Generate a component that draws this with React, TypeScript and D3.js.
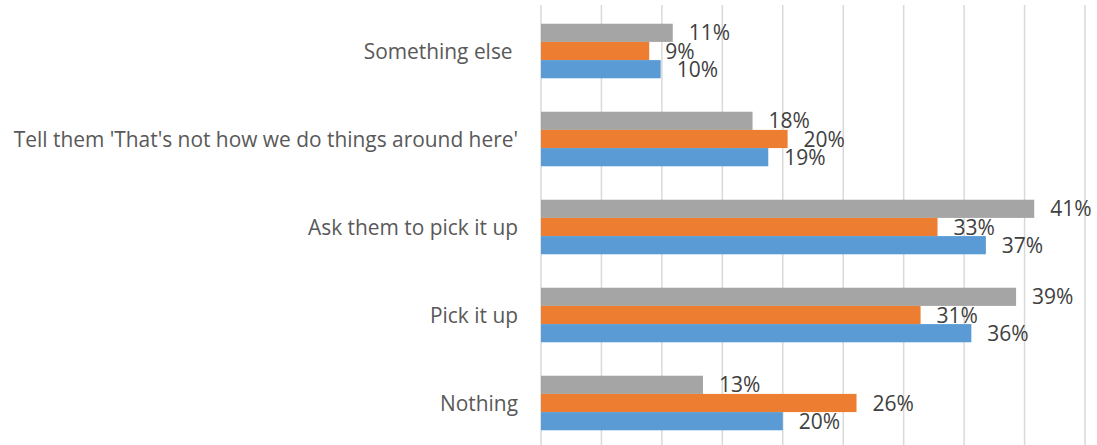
import React from 'react';
import * as d3 from 'd3';

const categories = [
  'Something else ',
  "Tell them 'That's not how we do things around here'",
  'Ask them to pick it up',
  'Pick it up',
  'Nothing',
];
const seriesNames = ['Series3', 'Series2', 'Series1'];
const seriesColors = ['#a5a5a5', '#ed7d31', '#5b9bd5'];
const grayValues = [10.9, 17.5, 40.8, 39.3, 13.4];
const orangeValues = [8.95, 20.4, 32.8, 31.4, 26.1];
const blueValues = [9.9, 18.8, 36.8, 35.6, 20.0];
const grayLabels = ['11%', '18%', '41%', '39%', '13%'];
const orangeLabels = ['9%', '20%', '33%', '31%', '26%'];
const blueLabels = ['10%', '19%', '37%', '36%', '20%'];
const xTicks = [0, 5, 10, 15, 20, 25, 30, 35, 40, 45];

const W = 1097;
const H = 445;

export default function App() {
  const x = d3.scaleLinear().domain([0, 45]).range([541, 1085]);
  const y = d3.scaleBand<string>().domain(categories).range([7, 447]).paddingInner(0.38).paddingOuter(0.19);
  const sub = d3.scaleBand<string>().domain(seriesNames).range([0, y.bandwidth()]);
  const allValues = [grayValues, orangeValues, blueValues];
  const allLabels = [grayLabels, orangeLabels, blueLabels];
  const font = "'Open Sans', sans-serif";

  return (
    <svg width={W} height={H} style={{ position: 'absolute', left: 0, top: 0, background: '#fff' }}>
      {xTicks.map((t) => (
        <line key={t} x1={x(t)} x2={x(t)} y1={5} y2={H} stroke="#d9d9d9" strokeWidth={1.5} />
      ))}
      {categories.map((c, ci) => (
        <g key={c}>
          {seriesNames.map((s, si) => {
            const v = allValues[si][ci];
            const yy = (y(c) as number) + (sub(s) as number);
            const h = sub.bandwidth();
            return (
              <g key={s}>
                <rect x={x(0)} y={yy} width={x(v) - x(0)} height={h} fill={seriesColors[si]} />
                <text
                  x={x(v) + 16}
                  y={yy + h / 2}
                  dy="0.36em"
                  fontFamily={font}
                  fontSize={21}
                  fill="#404040"
                >
                  {allLabels[si][ci]}
                </text>
              </g>
            );
          })}
          <text
            x={518}
            y={(y(c) as number) + y.bandwidth() / 2}
            dy="0.36em"
            textAnchor="end"
            fontFamily={font}
            fontSize={20.9}
            fill="#595959"
            style={{ whiteSpace: 'pre' }}
          >
            {c}
          </text>
        </g>
      ))}
    </svg>
  );
}
